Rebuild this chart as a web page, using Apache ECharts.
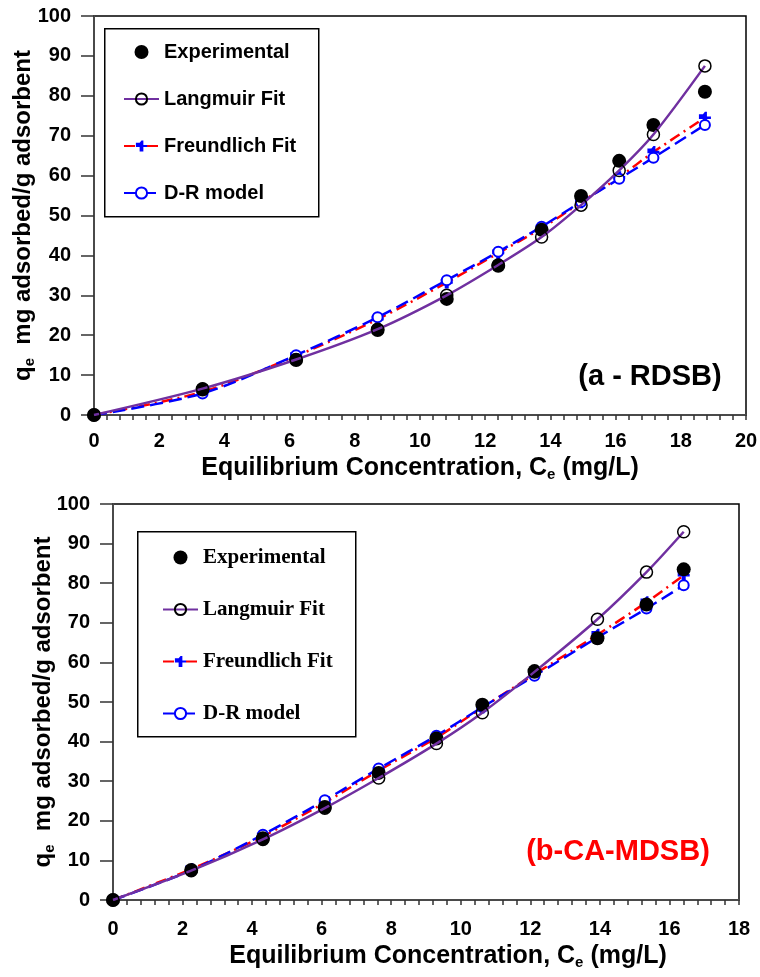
<!DOCTYPE html>
<html><head><meta charset="utf-8">
<script src="https://cdn.jsdelivr.net/npm/echarts@6/dist/echarts.min.js"></script>
<style>html,body{margin:0;padding:0;background:#fff}#c{width:760px;height:977px}</style>
</head><body><div id="c"></div>
<script>
// ---- data: panel (a) RDSB ----
const ceA   = [0, 3.33, 6.2, 8.7, 10.82, 12.4, 13.73, 14.94, 16.11, 17.16, 18.74];
const expA  = [0, 6.4, 13.8, 21.3, 29.1, 37.4, 46.4, 54.9, 63.7, 72.7, 81.0];
const langA = [0, 6.6, 13.9, 21.5, 30.0, 37.6, 44.6, 52.6, 61.3, 70.3, 87.5];
const freA  = [0, 5.8, 14.8, 24.0, 33.2, 40.6, 46.8, 53.3, 59.6, 65.9, 74.5];
const drA   = [0, 5.4, 15.0, 24.5, 33.8, 40.9, 47.2, 53.4, 59.2, 64.5, 72.7];
// ---- data: panel (b) CA-MDSB ----
const ceB   = [0, 2.25, 4.31, 6.09, 7.64, 9.3, 10.62, 12.12, 13.93, 15.34, 16.41];
const expB  = [0, 7.6, 15.6, 23.5, 32.1, 40.8, 49.3, 57.8, 66.1, 74.6, 83.5];
const langB = [0, 7.4, 15.3, 23.2, 30.8, 39.5, 47.3, 57.6, 70.9, 82.8, 93.0];
const freB  = [0, 7.8, 16.1, 24.6, 32.7, 41.0, 48.6, 57.0, 67.0, 75.2, 82.0];
const drB   = [0, 7.5, 16.5, 25.2, 33.2, 41.5, 48.7, 56.6, 66.3, 73.6, 79.5];
const seriesNames = ['Experimental', 'Langmuir Fit', 'Freundlich Fit', 'D-R model'];
const panelLabels = ['(a - RDSB)', '(b-CA-MDSB)'];

const zip = (xs, ys) => xs.map((x, i) => [x, ys[i]]);
const SANS = 'Liberation Sans, Arial, sans-serif';
const SERIF = 'Liberation Serif, Times New Roman, serif';
const PLUS = 'path://M4,0h2v4h4v2h-4v4h-4v-4h-4v-4h4z';
const AXC = '#4a4a4a';

function axes(idx, xmax, labelMarginX, nameGapX, namePadX, nameGapY) {
  const xAxis = {
    gridIndex: idx, type: 'value', min: 0, max: xmax, interval: 2,
    axisLine: {show: true, onZero: false, lineStyle: {color: AXC, width: 2}},
    axisTick: {show: true, inside: false, length: 5, lineStyle: {color: '#333', width: 1.5}},
    minorTick: {show: true, splitNumber: 5, length: 5, lineStyle: {color: '#333', width: 1.5}},
    splitLine: {show: false},
    axisLabel: {margin: labelMarginX, color: '#000', fontFamily: SANS, fontWeight: 'bold', fontSize: 20},
    name: '{a|Equilibrium Concentration, C}{s|e}{a| (mg/L)}',
    nameLocation: 'middle', nameGap: nameGapX, nameMoveOverlap: false,
    nameTextStyle: {padding: [0, 0, 0, namePadX], rich: {
      a: {fontFamily: SANS, fontWeight: 'bold', fontSize: 25, color: '#000'},
      s: {fontFamily: SANS, fontWeight: 'bold', fontSize: 15, color: '#000', verticalAlign: 'bottom', padding: [12, 0, 0, 0]}
    }}
  };
  const yAxis = {
    gridIndex: idx, type: 'value', min: 0, max: 100, interval: 10,
    axisLine: {show: true, onZero: false, lineStyle: {color: AXC, width: 2}},
    axisTick: {show: true, inside: false, length: 13, lineStyle: {color: '#333', width: 1.5}},
    splitLine: {show: false},
    axisLabel: {margin: 23, color: '#000', fontFamily: SANS, fontWeight: 'bold', fontSize: 20},
    name: '{a|q}{s|e}{a|  mg adsorbed/g adsorbent}',
    nameLocation: 'middle', nameGap: nameGapY, nameRotate: 90, nameMoveOverlap: false,
    nameTextStyle: {rich: {
      a: {fontFamily: SANS, fontWeight: 'bold', fontSize: 24, color: '#000'},
      s: {fontFamily: SANS, fontWeight: 'bold', fontSize: 15, color: '#000', verticalAlign: 'bottom', padding: [12, 0, 0, 0]}
    }}
  };
  return [xAxis, yAxis];
}

function seriesFor(idx, xs, e, l, f, d) {
  return [
    {name: seriesNames[1], type: 'line', xAxisIndex: idx, yAxisIndex: idx, data: zip(xs, l), smooth: 0.3,
     symbol: 'circle', symbolSize: 12, z: 3,
     lineStyle: {color: '#7030A0', width: 2.5},
     itemStyle: {color: 'rgba(255,255,255,0)', borderColor: '#000', borderWidth: 1.5}},
    {name: seriesNames[2], type: 'line', xAxisIndex: idx, yAxisIndex: idx, data: zip(xs, f), smooth: 0.3,
     symbol: PLUS, symbolSize: 12, z: 2,
     lineStyle: {color: '#FF0000', width: 2.5, type: [11, 5, 2, 5]},
     itemStyle: {color: '#0000FF'}},
    {name: seriesNames[3], type: 'line', xAxisIndex: idx, yAxisIndex: idx, data: zip(xs, d), smooth: 0.3,
     symbol: 'circle', symbolSize: 10, z: 2,
     lineStyle: {color: '#0000FF', width: 2.5, type: [13, 6]},
     itemStyle: {color: '#fff', borderColor: '#0000FF', borderWidth: 2}},
    {name: seriesNames[0], type: 'scatter', xAxisIndex: idx, yAxisIndex: idx, data: zip(xs, e),
     symbol: 'circle', symbolSize: 14, z: 2, itemStyle: {color: '#000', opacity: 1}}
  ];
}

const [xa, ya] = axes(0, 20, 16, 40, 0, 57);
const [xb, yb] = axes(1, 18, 19, 43, 44, 56);

const legendBase = {
  orient: 'vertical', selectedMode: false, itemWidth: 35, itemHeight: 14, padding: 0,
  data: seriesNames
};

const chart = echarts.init(document.getElementById('c'), null, {renderer: 'canvas'});
chart.setOption({
  animation: false,
  backgroundColor: '#fff',
  grid: [
    {left: 94, top: 16, width: 652, height: 399, show: true, borderColor: '#000', borderWidth: 1.5, backgroundColor: 'transparent', containLabel: false, outerBoundsMode: 'none'},
    {left: 113, top: 504, width: 626, height: 396, show: true, borderColor: '#000', borderWidth: 1.5, backgroundColor: 'transparent', containLabel: false, outerBoundsMode: 'none'}
  ],
  xAxis: [xa, xb],
  yAxis: [ya, yb],
  legend: [
    Object.assign({}, legendBase, {left: 123, top: 42, itemGap: 27,
      textStyle: {fontFamily: SANS, fontWeight: 'bold', fontSize: 20, color: '#000'}}),
    Object.assign({}, legendBase, {left: 162, top: 547, itemGap: 31,
      textStyle: {fontFamily: SERIF, fontWeight: 'bold', fontSize: 21, color: '#000'}})
  ],
  graphic: [
    {type: 'rect', left: 104, top: 28, z: 0, shape: {width: 214, height: 188}, style: {fill: '#fff', stroke: '#000', lineWidth: 1.5}},
    {type: 'rect', left: 137, top: 531, z: 0, shape: {width: 218, height: 205}, style: {fill: '#fff', stroke: '#000', lineWidth: 1.5}},
    {type: 'text', x: 650, y: 377, z: 10, style: {text: panelLabels[0], fill: '#000', font: 'bold 29px ' + SANS, textAlign: 'center', textVerticalAlign: 'middle'}},
    {type: 'text', x: 618, y: 852, z: 10, style: {text: panelLabels[1], fill: '#FF0000', font: 'bold 29px ' + SANS, textAlign: 'center', textVerticalAlign: 'middle'}}
  ],
  series: [].concat(seriesFor(0, ceA, expA, langA, freA, drA), seriesFor(1, ceB, expB, langB, freB, drB))
});
</script>
</body></html>
